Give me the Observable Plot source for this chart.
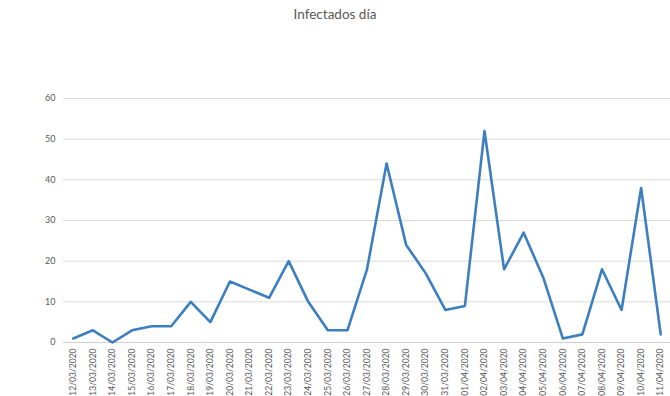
<!DOCTYPE html>
<html><head><meta charset="utf-8">
<script src="https://cdn.jsdelivr.net/npm/d3@7"></script>
<script src="https://cdn.jsdelivr.net/npm/@observablehq/plot@0.6"></script>
<style>
body{margin:0;background:#fff;font-family:Lato,"Open Sans",sans-serif;}
#title{height:30px;line-height:28px;text-align:center;font-size:13.5px;color:#595959;}
</style></head><body>
<div id="title">Infectados día</div>
<div id="chart"></div>
<script>
const dates = ["12/03/2020","13/03/2020","14/03/2020","15/03/2020","16/03/2020","17/03/2020","18/03/2020","19/03/2020","20/03/2020","21/03/2020","22/03/2020","23/03/2020","24/03/2020","25/03/2020","26/03/2020","27/03/2020","28/03/2020","29/03/2020","30/03/2020","31/03/2020","01/04/2020","02/04/2020","03/04/2020","04/04/2020","05/04/2020","06/04/2020","07/04/2020","08/04/2020","09/04/2020","10/04/2020","11/04/2020"];
const infectados = [1,3,0,3,4,4,10,5,15,13,11,20,10,3,3,18,44,24,17,8,9,52,18,27,16,1,2,18,8,38,2];
const yTicks = [0,10,20,30,40,50,60];

const data = dates.map((d,i)=>({fecha:d, valor:infectados[i]}));

const chart = Plot.plot({
  width: 670,
  height: 366,
  marginTop: 68,
  marginBottom: 54,
  marginLeft: 63,
  marginRight: 0,
  style:{fontFamily:"Lato, 'Open Sans', sans-serif", color:"#595959", background:"#fff"},
  x:{type:"point", domain:dates, padding:0.5, round:false, label:null},
  y:{domain:[0,60], label:null},
  marks:[
    Plot.gridY(yTicks,{stroke:"#d9d9d9", strokeOpacity:1}),
    Plot.ruleY([0],{stroke:"#d0d0d0"}),
    Plot.ruleX(dates,{x:d=>d, dx:-9.8, y1:0, y2:-0.12, stroke:"#d0d0d0"}),
    Plot.axisY(yTicks,{tickSize:0, tickPadding:8, fontSize:9, fill:"#595959", label:null}),
    Plot.axisX({tickSize:0, tickRotate:-90, tickPadding:6, fontSize:8.5, fill:"#595959", label:null}),
    Plot.lineY(data,{x:"fecha", y:"valor", stroke:"#3c7fc0", strokeWidth:2.6})
  ]
});
document.getElementById("chart").appendChild(chart);
</script>
</body></html>
